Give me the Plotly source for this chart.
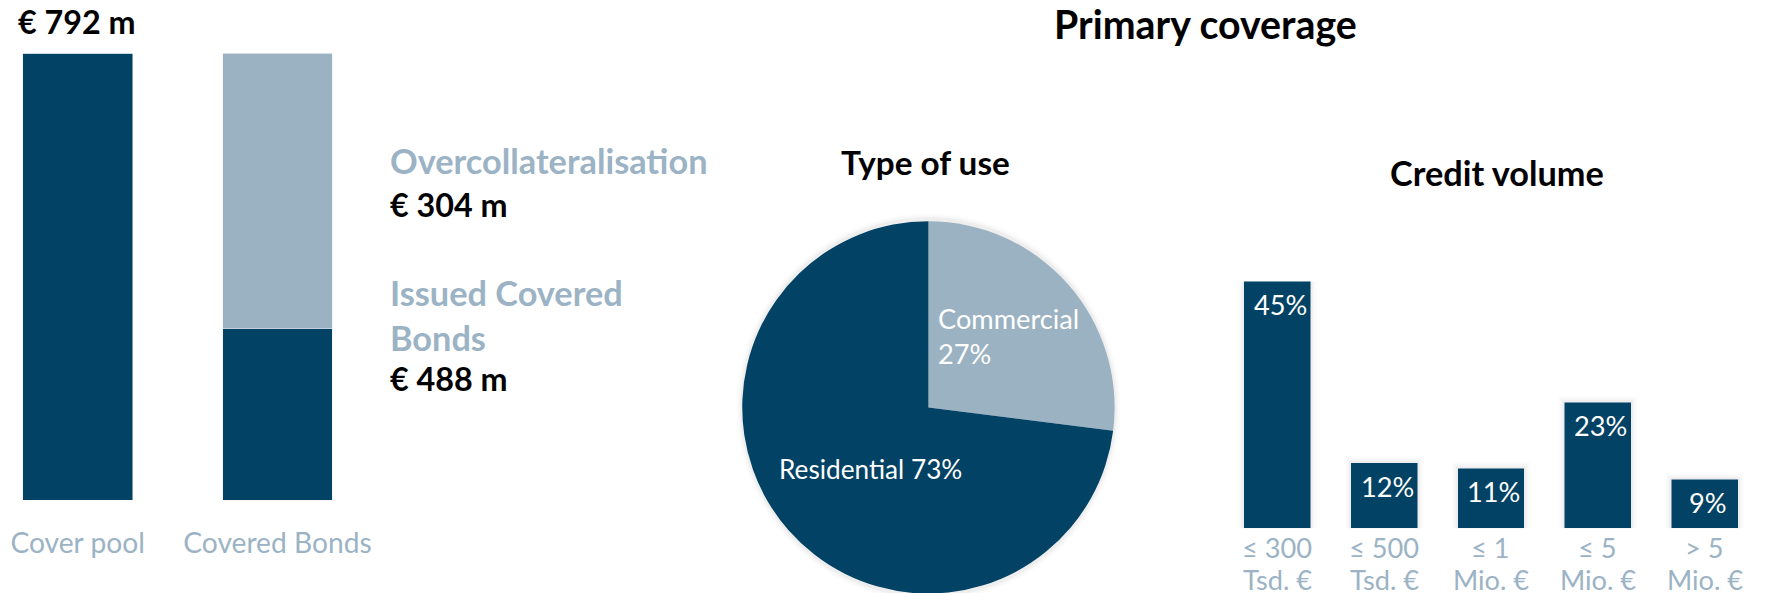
import plotly.graph_objects as go

# layout is planned on a 1769 x 593 grid; the page is drawn slightly larger
GRID_W, GRID_H = 1769, 593
K = 1784 / 1769
FIG_W, FIG_H = 1784, 598
NAVY = "#024264"
LIGHT = "#9BB2C2"
LABEL = "#9BB3C4"
FONT = "Lato"

# Cover pool vs. covered bonds (EUR m)
pool_categories = ["Cover pool", "Covered Bonds"]
cover_pool = [792, 0]
bonds_lower = [0, 304]
bonds_upper = [0, 488]
total_label = "€ 792 m"

# Primary coverage by type of use (%)
use_labels = ["Commercial", "Residential"]
use_values = [27, 73]

# Primary coverage by credit volume (%)
volume_limits = ["≤ 300", "≤ 500", "≤ 1", "≤ 5", "> 5"]
volume_units = ["Tsd. €", "Tsd. €", "Mio. €", "Mio. €", "Mio. €"]
volume_values = [45, 12, 11, 23, 9]


def px(x):
    return x / GRID_W


def py(y):
    return 1 - y / GRID_H


def fs(size):
    return round(size * K, 1)


fig = go.Figure()

# --- left: stacked bars ---
fig.add_trace(go.Bar(x=[0, 1], y=cover_pool, marker_color=NAVY, width=0.55,
                     xaxis="x", yaxis="y", hoverinfo="skip"))
fig.add_trace(go.Bar(x=[0, 1], y=bonds_lower, marker_color=NAVY, width=0.55,
                     xaxis="x", yaxis="y", hoverinfo="skip"))
fig.add_trace(go.Bar(x=[0, 1], y=bonds_upper, marker_color=LIGHT, width=0.55,
                     xaxis="x", yaxis="y", hoverinfo="skip"))

# --- middle: pie ---
pie_cx, pie_cy, pie_r = 930, 404, 186.5
pie_x = [px(pie_cx - pie_r), px(pie_cx + pie_r)]
pie_y = [max(0.0, py(pie_cy + pie_r)), py(pie_cy - pie_r)]
fig.add_trace(go.Pie(labels=use_labels, values=use_values, sort=False,
                     direction="clockwise", rotation=0,
                     marker=dict(colors=[LIGHT, NAVY], line=dict(width=0)),
                     textinfo="none", hoverinfo="skip",
                     domain=dict(x=pie_x, y=pie_y)))

# --- right: credit volume bars ---
vol_idx = list(range(len(volume_values)))
fig.add_trace(go.Bar(x=vol_idx, y=volume_values, marker_color=NAVY, width=0.626,
                     xaxis="x2", yaxis="y2", hoverinfo="skip"))

annotations = []
shapes = []


def note(text, x, y, size, color="black", bold=False, xanchor="center", yanchor="middle",
         xref="paper", yref="paper", align="center", yshift=0, xshift=0):
    t = f"<b>{text}</b>" if bold else text
    annotations.append(dict(text=t, x=x, y=y, xref=xref, yref=yref, showarrow=False,
                            xanchor=xanchor, yanchor=yanchor, align=align,
                            yshift=yshift * K, xshift=xshift * K,
                            font=dict(family=FONT, size=fs(size), color=color)))


note(total_label, px(16), py(21), 32, bold=True, xanchor="left")
note("Overcollateralisation", px(389), py(159), 34, LABEL, bold=True, xanchor="left")
note(f"€ {bonds_lower[1]} m", px(389), py(203), 32, bold=True, xanchor="left")
note("Issued Covered<br>Bonds", px(389), py(312), 34, LABEL, bold=True, xanchor="left", align="left")
note(f"€ {bonds_upper[1]} m", px(389), py(375), 32, bold=True, xanchor="left")

note("Primary coverage", px(1208), py(23), 39, bold=True)
note("Type of use", px(927), py(161), 33, bold=True)
note("Credit volume", px(1500), py(171), 34, bold=True)

note(f"{use_labels[0]}<br>{use_values[0]}%", px(938), py(333), 27, "white",
     xanchor="left", align="left")
note(f"{use_labels[1]} {use_values[1]}%", px(778), py(465), 26, "white", xanchor="left")

for i, v in zip(vol_idx, volume_values):
    note(f"{v}%", i, v, 27, "white", xref="x2", yref="y2", yanchor="top", yshift=-5, xshift=3)

for i, (lim, unit) in enumerate(zip(volume_limits, volume_units)):
    note(lim, i, py(543), 27, LABEL, xref="x2")
    note(unit, i, py(575), 27, LABEL, xref="x2")

# soft halo behind the credit bars
half = 0.313
for k, a in [(6, 0.012), (4, 0.02), (2, 0.03)]:
    dx = k / 107.0
    for i, v in zip(vol_idx, volume_values):
        shapes.append(dict(type="rect", xref="x2", yref="y2", layer="below",
                           x0=i - half - dx, x1=i + half + dx, y0=0,
                           y1=v + k / (245.0 / 45), line=dict(width=0),
                           fillcolor=f"rgba(0,0,0,{a})"))

# soft halo behind the pie
for k, a in [(6, 0.012), (4, 0.02), (2, 0.035)]:
    shapes.append(dict(type="circle", xref="paper", yref="paper", layer="below",
                       x0=px(pie_cx - pie_r - k), x1=px(pie_cx + pie_r + k),
                       y0=py(pie_cy + pie_r + k), y1=py(pie_cy - pie_r - k),
                       line=dict(width=0), fillcolor=f"rgba(0,0,0,{a})"))

fig.update_layout(
    width=FIG_W, height=FIG_H, margin=dict(l=0, r=0, t=0, b=0),
    paper_bgcolor="white", plot_bgcolor="rgba(0,0,0,0)",
    barmode="stack", showlegend=False,
    font=dict(family=FONT),
    xaxis=dict(domain=[0, px(354)], range=[-0.3885, 1.38], tickmode="array",
               tickvals=[0, 1], ticktext=pool_categories, showgrid=False,
               zeroline=False, showline=False, ticks="", ticklabelstandoff=24,
               tickfont=dict(family=FONT, size=fs(28), color=LABEL), fixedrange=True),
    yaxis=dict(domain=[py(496), py(53)], range=[0, 792], visible=False),
    xaxis2=dict(domain=[px(1226), px(1761)], range=[-0.5, 4.5], anchor="y2",
                visible=False),
    yaxis2=dict(domain=[py(524), py(279)], range=[0, 45], visible=False, anchor="x2"),
    annotations=annotations,
    shapes=shapes,
)

fig.write_html("out.html")
